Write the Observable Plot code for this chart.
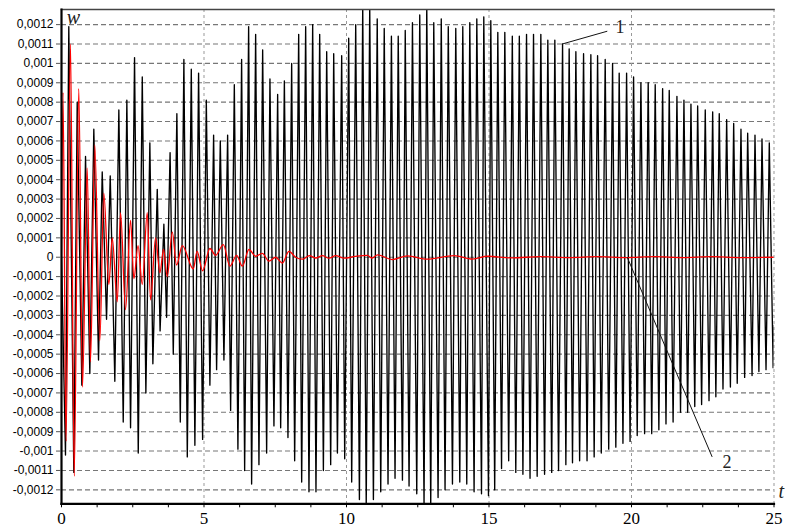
<!DOCTYPE html>
<html><head><meta charset="utf-8">
<script src="https://cdn.jsdelivr.net/npm/d3@7"></script>
<script src="https://cdn.jsdelivr.net/npm/@observablehq/plot@0.6"></script>
<style>html,body{margin:0;padding:0;background:#fff;}</style>
</head><body><div id="chart"></div>
<script>
// Curve 1 (black): successive extrema (time t, deflection w)
const blackT = [
0, 0.140, 0.256, 0.432, 0.551, 0.713, 0.843, 0.994, 1.134, 1.299, 1.429, 1.580, 1.710, 1.871, 2.012, 2.166, 2.293, 2.423, 2.563, 2.693,
2.834, 2.960, 3.100, 3.206, 3.360, 3.459, 3.592, 3.687, 3.810, 3.922, 4.048, 4.168, 4.294, 4.414, 4.554, 4.680, 4.810, 4.951, 5.081, 5.207,
5.337, 5.442, 5.572, 5.699, 5.829, 5.934, 6.064, 6.190, 6.320, 6.426, 6.566, 6.671, 6.812, 6.928, 7.058, 7.198, 7.314, 7.454, 7.584, 7.690,
7.820, 7.946, 8.076, 8.181, 8.322, 8.427, 8.567, 8.683, 8.813, 8.929, 9.059, 9.189, 9.305, 9.445, 9.551, 9.681, 9.831, 9.937, 10.077, 10.182,
10.323, 10.453, 10.569, 10.692, 10.815, 10.944, 11.078, 11.201, 11.324, 11.457, 11.576, 11.703, 11.815, 11.963, 12.061, 12.195, 12.314, 12.465, 12.570, 12.721,
12.816, 12.956, 13.062, 13.213, 13.325, 13.458, 13.571, 13.718, 13.834, 13.975, 14.080, 14.220, 14.326, 14.477, 14.572, 14.737, 14.817, 14.982, 15.063, 15.200,
15.309, 15.440, 15.555, 15.690, 15.818, 15.940, 16.064, 16.190, 16.317, 16.440, 16.562, 16.690, 16.819, 16.950, 17.064, 17.200, 17.310, 17.440, 17.581, 17.697,
17.813, 17.930, 18.048, 18.180, 18.318, 18.440, 18.574, 18.690, 18.810, 18.940, 19.077, 19.200, 19.336, 19.450, 19.568, 19.700, 19.828, 19.950, 20.073, 20.200,
20.330, 20.460, 20.586, 20.710, 20.832, 20.960, 21.092, 21.210, 21.324, 21.460, 21.594, 21.720, 21.840, 21.970, 22.086, 22.220, 22.321, 22.460, 22.588, 22.720,
22.848, 22.960, 23.079, 23.210, 23.339, 23.470, 23.585, 23.710, 23.841, 23.970, 24.076, 24.230, 24.333, 24.470, 24.579, 24.720, 24.835, 24.970, 25.000
];
const blackW = [
0, -0.00102, 0.00119, -0.00111, 0.0008, -0.00066, 0.00052, -0.0006, 0.00066, -0.00053, 0.00044, -0.00032, 0.00042, -0.00064, 0.00076, -0.00085, 0.00081, -0.00088, 0.00103, -0.00101,
0.00093, -0.0007, 0.00059, -0.00055, 0.00035, -0.00038, 0.00017, -0.00031, 0.00054, -0.0005, 0.00074, -0.00085, 0.00102, -0.00103, 0.00097, -0.00097, 0.00095, -0.00094, 0.00081, -0.00066,
0.00063, -0.00058, 0.0006, -0.00053, 0.00063, -0.00079, 0.00089, -0.00099, 0.00102, -0.0011, 0.00119, -0.00117, 0.00115, -0.00107, 0.00107, -0.00101, 0.00092, -0.00087, 0.00084, -0.00088,
0.00091, -0.00093, 0.001, -0.00105, 0.00115, -0.00116, 0.00119, -0.00121, 0.0012, -0.00121, 0.00115, -0.0011, 0.00106, -0.00107, 0.00105, -0.00101, 0.00104, -0.00104, 0.00113, -0.00116,
0.0012, -0.00125, 0.0013, -0.00128, 0.0013, -0.00125, 0.00123, -0.00121, 0.00118, -0.00117, 0.00114, -0.00114, 0.00114, -0.00115, 0.00117, -0.00118, 0.00121, -0.00122, 0.00125, -0.00128,
0.0013, -0.00128, 0.00121, -0.00124, 0.00123, -0.0012, 0.00119, -0.00117, 0.00118, -0.00116, 0.00119, -0.00117, 0.00121, -0.00121, 0.00123, -0.00122, 0.00124, -0.00123, 0.00122, -0.0012,
0.00116, -0.00109, 0.00116, -0.00105, 0.00114, -0.00111, 0.00114, -0.00112, 0.00115, -0.00114, 0.00115, -0.00113, 0.00115, -0.00112, 0.00112, -0.00111, 0.00112, -0.0011, 0.0011, -0.00107,
0.001075, -0.00106, 0.00106, -0.00105, 0.00105, -0.00105, 0.001045, -0.00103, 0.00104, -0.00101, 0.00102, -0.00099, 0.001, -0.00098, 0.00095, -0.00096, 0.00095, -0.00095, 0.00093, -0.00092,
0.0009, -0.00091, 0.0009, -0.00091, 0.00089, -0.00089, 0.00087, -0.00086, 0.00086, -0.00085, 0.00083, -0.0008, 0.00081, -0.0008, 0.00079, -0.00077, 0.00078, -0.00076, 0.00076, -0.00074,
0.00075, -0.00072, 0.00074, -0.00068, 0.00071, -0.00067, 0.00069, -0.00065, 0.00066, -0.00062, 0.00064, -0.00061, 0.00063, -0.00059, 0.00061, -0.00058, 0.00059, -0.00057, -0.00035
];
// Curve 2 (red)
const redT = [
0, 0.053, 0.158, 0.316, 0.446, 0.607, 0.737, 0.902, 1.018, 1.169, 1.345, 1.485, 1.661, 1.780, 1.956, 2.072, 2.247, 2.423, 2.539, 2.686,
2.834, 3.009, 3.125, 3.301, 3.452, 3.581, 3.711, 3.887, 4.038, 4.238, 4.624, 4.758, 4.951, 5.207, 5.407, 5.678, 5.909, 6.145, 6.345, 6.577,
6.812, 7.047, 7.279, 7.514, 7.749, 7.981, 8.216, 8.451, 8.700, 8.920, 9.154, 9.386, 9.621, 9.912, 10.300, 10.734, 10.900, 11.085, 11.612, 12.138,
12.840, 13.774, 14.420, 14.947, 15.800, 16.800, 17.800, 18.800, 19.800, 20.800, 21.800, 22.800, 23.800, 25.000
];
const redW = [
0, 0.00085, -0.00095, 0.0011, -0.00113, 0.00087, -0.00067, 0.00046, -0.00054, 0.00058, -0.00043, 0.00033, -0.00014, 0.0001, -0.00023, 0.00023, -0.00027, 0.00019, -0.00011, 0.00006,
-0.00014, 0.00023, -0.00022, 0.0001, -0.00008, 0.00004, -0.0001, 0.00013, -0.00004, 0.00006, -0.00006, 0.00003, -0.00007, 0.000045, 0.00001, 0.000065, -0.000046, 0.00001, -0.000046, 0.00004,
0.000005, 0.00002, -0.00002, 0, -0.00003, 0.00003, 0, -0.00001, 0.000008, -0.000004, 0.000008, -0.000005, 0.000008, -0.000005, 0.000004, 0.00001, -0.000004, 0.000012, -0.000012, 0.000007,
-0.00001, 0.000008, -0.00001, 0.000005, -0.000003, 0.000003, -0.000002, 0.000003, -0.000002, 0.000003, -0.000002, 0.000003, -0.000002, 0
];
// Axes
const yTicks = [-0.0012, -0.0011, -0.001, -0.0009, -0.0008, -0.0007, -0.0006, -0.0005, -0.0004, -0.0003, -0.0002, -0.0001, 0,
  0.0001, 0.0002, 0.0003, 0.0004, 0.0005, 0.0006, 0.0007, 0.0008, 0.0009, 0.001, 0.0011, 0.0012];
const xTicks = [0, 5, 10, 15, 20, 25];
const xMinorTicks = [1.25, 2.5, 3.75, 6.25, 7.5, 8.75, 11.25, 12.5, 13.75, 16.25, 17.5, 18.75, 21.25, 22.5, 23.75];
const xGrid = [5, 10, 15, 20, 25];
// Annotations
const axisNames = [{t: 0.18, w: 0.001205, label: "w"}, {t: 25.16, w: -0.00124, label: "t"}];
const curveLabels = [{t: 19.44, w: 0.001159, label: "1"}, {t: 23.19, w: -0.001085, label: "2"}];
const leaders = [
  {t1: 17.57, w1: 0.0011, t2: 19.15, w2: 0.001166},
  {t1: 19.85, w1: 0.0, t2: 22.83, w2: -0.00103}
];

const black = blackT.map((t, i) => ({t, w: blackW[i]}));
const red = redT.map((t, i) => ({t, w: redW[i]}));
const fmt = d => d === 0 ? "0" : String(d).replace(".", ",");

const chart = Plot.plot({
  width: 785, height: 528,
  marginLeft: 61, marginRight: 11.5, marginTop: 9, marginBottom: 24.7,
  style: {background: "#fff", fontFamily: "Liberation Sans, Arial, sans-serif", color: "#000"},
  x: {domain: [0, 25]},
  y: {domain: [-0.001272, 0.001278]},
  marks: [
    Plot.ruleY(yTicks, {stroke: "#777", strokeDasharray: "5,3", strokeWidth: 1.1}),
    Plot.ruleX(xGrid, {stroke: "#999", strokeDasharray: "3,3", strokeWidth: 1}),
    Plot.line(black, {x: "t", y: "w", curve: "linear", stroke: "#000", strokeWidth: 1.35, clip: true}),
    Plot.line(red, {x: "t", y: "w", curve: "monotone-x", stroke: "#ff0000", strokeWidth: 1.3, clip: true}),
    Plot.frame({anchor: "top", stroke: "#444", strokeWidth: 1.5}),
    Plot.frame({anchor: "left", stroke: "#000", strokeWidth: 2.2}),
    Plot.frame({anchor: "bottom", stroke: "#000", strokeWidth: 2.2}),
    Plot.axisY(yTicks, {tickFormat: fmt, tickSize: 5, tickPadding: 3, fontSize: 12, stroke: "#555", label: null}),
    Plot.axisX(xTicks, {tickSize: 4, tickPadding: 4, fontSize: 17, fontFamily: "Liberation Serif", label: null}),
    Plot.axisX(xMinorTicks, {tickSize: 4, tickFormat: () => "", label: null}),
    Plot.link(leaders, {x1: "t1", y1: "w1", x2: "t2", y2: "w2", stroke: "#111", strokeWidth: 1}),
    Plot.text(axisNames, {x: "t", y: "w", text: "label", textAnchor: "start", lineAnchor: "bottom", fontFamily: "Liberation Serif", fontStyle: "italic", fontSize: 20, fill: "#222"}),
    Plot.text(curveLabels, {x: "t", y: "w", text: "label", textAnchor: "start", lineAnchor: "bottom", fontFamily: "Liberation Serif", fontSize: 18, fill: "#222"})
  ]
});
document.getElementById("chart").appendChild(chart);
</script></body></html>
